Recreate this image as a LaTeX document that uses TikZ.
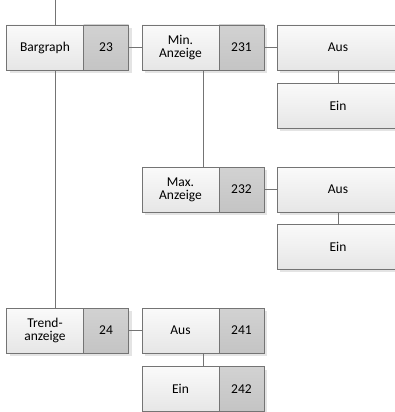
\documentclass[tikz,border=0pt]{standalone}
\usepackage{fontspec}
\setmainfont{Carlito}
\usetikzlibrary{shadows}
\definecolor{BoxLine}{HTML}{747474}
\definecolor{BoxTop}{HTML}{FAFAFA}
\definecolor{BoxLow}{HTML}{E6E6E6}
\definecolor{NumTop}{HTML}{D2D2D2}
\definecolor{NumLow}{HTML}{C4C4C4}
\definecolor{Shade}{HTML}{E4E4E4}
\tikzset{
  cell/.style={draw=BoxLine, line width=0.9pt, inner sep=0pt, align=center,
    minimum height=45pt, font=\fontsize{13.5}{13}\selectfont,
    drop shadow={shadow xshift=3pt, shadow yshift=-3pt, fill=Shade, opacity=1}},
  lbl/.style={cell, top color=BoxTop, bottom color=BoxLow, minimum width=77pt},
  num/.style={cell, top color=NumTop, bottom color=NumLow, minimum width=45pt},
  wide/.style={lbl, minimum width=122pt},
  link/.style={draw=BoxLine, line width=0.9pt}
}
\begin{document}
\begin{tikzpicture}[x=1pt,y=-1pt]
\path[use as bounding box] (0,0) rectangle (394,412);
% Bargraph
\node[lbl] (bar) at (45,47.5) {Bargraph};
\node[num] (barnum) at (106,47.5) {23};
\node[lbl] (min) at (180.5,47.5) {Min.\\Anzeige};
\node[num] (minnum) at (241.5,47.5) {231};
\node[wide] (minaus) at (338,47.5) {Aus};
\node[wide] (minein) at (338,105.5) {Ein};
\node[lbl] (max) at (180.5,189.5) {Max.\\Anzeige};
\node[num] (maxnum) at (241.5,189.5) {232};
\node[wide] (maxaus) at (338,189.5) {Aus};
\node[wide] (maxein) at (338,246.5) {Ein};
% Trendanzeige
\node[lbl] (trend) at (45,330.5) {Trend-\\anzeige};
\node[num] (trendnum) at (106,330.5) {24};
\node[lbl] (trendaus) at (180.5,330.5) {Aus};
\node[num] (trendausnum) at (241.5,330.5) {241};
\node[lbl] (trendein) at (180.5,389) {Ein};
\node[num] (trendeinnum) at (241.5,389) {242};
% connectors
\coordinate (top) at (55,0);
\draw[link] (top) -- (top |- bar.north);
\draw[link] ([xshift=10pt]bar.south) -- ([xshift=10pt]trend.north);
\draw[link] (barnum.east) -- (min.west);
\draw[link] (minnum.east) -- (minaus.west);
\draw[link] (minaus) ++(0,22.5) -- (minein.north);
\draw[link] (min.south east) ++(-16,0) -- ([xshift=-16pt]max.north east);
\draw[link] (maxnum.east) -- (maxaus.west);
\draw[link] (maxaus) ++(0,22.5) -- (maxein.north);
\draw[link] (trendnum.east) -- (trendaus.west);
\draw[link] (trendaus.south east) ++(-16,0) -- ([xshift=-16pt]trendein.north east);
\end{tikzpicture}
\end{document}
